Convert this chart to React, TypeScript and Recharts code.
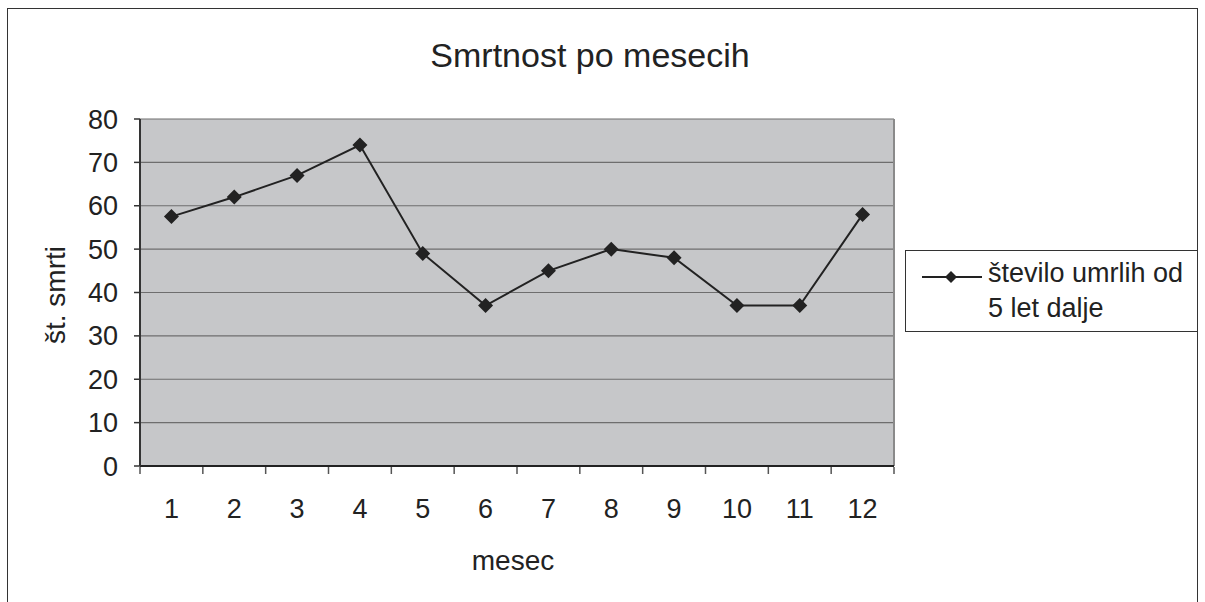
import {
  LineChart,
  Line,
  XAxis,
  YAxis,
  CartesianGrid,
  Legend,
  ReferenceLine,
} from 'recharts'

const meseci = [1, 2, 3, 4, 5, 6, 7, 8, 9, 10, 11, 12]
const umrli = [57.5, 62, 67, 74, 49, 37, 45, 50, 48, 37, 37, 58]
const mejeMesecev = [0.5, 1.5, 2.5, 3.5, 4.5, 5.5, 6.5, 7.5, 8.5, 9.5, 10.5, 11.5, 12.5]
const yTicks = [0, 10, 20, 30, 40, 50, 60, 70, 80]
const imeSerije = 'število umrlih od 5 let dalje'

const data = meseci.map((m, i) => ({ mesec: m, umrli: umrli[i] }))

const FONT = '"Liberation Sans", Arial, Helvetica, sans-serif'
const TEXT = '#222'

// romb kot oznaka tocke
function Romb(props: any) {
  const { cx, cy } = props
  if (cx == null || cy == null) return null
  const r = 7.5
  return (
    <path
      d={`M${cx},${cy - r} L${cx + r},${cy} L${cx},${cy + r} L${cx - r},${cy} Z`}
      fill="#222"
      stroke="none"
    />
  )
}

function Legenda({ payload }: any) {
  const item = payload?.[0]
  if (!item) return null
  return (
    <div
      style={{
        position: 'relative',
        width: 291,
        height: 80,
        border: '1px solid #333',
        background: '#fff',
        fontFamily: FONT,
      }}
    >
      <svg width={60} height={20} style={{ position: 'absolute', left: 16, top: 16 }}>
        <line x1={0} y1={10} x2={60} y2={10} stroke="#222" strokeWidth={2} />
        <path d="M29,4 L35,10 L29,16 L23,10 Z" fill="#222" />
      </svg>
      <div
        style={{
          position: 'absolute',
          left: 82,
          top: 5,
          width: 207,
          fontSize: 27,
          lineHeight: '35px',
          color: TEXT,
        }}
      >
        {item.value}
      </div>
    </div>
  )
}

export default function App() {
  return (
    <div
      style={{
        position: 'absolute',
        left: 0,
        top: 0,
        width: 1205,
        height: 602,
        overflow: 'hidden',
        background: '#fff',
        fontFamily: FONT,
      }}
    >
      <div
        style={{
          position: 'absolute',
          left: 7,
          top: 8,
          width: 1189,
          height: 620,
          border: '1.5px solid #333',
        }}
      />
      <LineChart
        width={1205}
        height={602}
        data={data}
        margin={{ top: 119, right: 311, bottom: 134, left: 0 }}
        style={{ position: 'absolute', left: 0, top: 0 }}
      >
        <CartesianGrid
          vertical={false}
          stroke="#6e6e6e"
          strokeWidth={1.2}
          fill="#c6c7c9"
          fillOpacity={1}
        />
        <XAxis
          type="number"
          dataKey="mesec"
          domain={[0.5, 12.5]}
          ticks={meseci}
          interval={0}
          height={1}
          axisLine={{ stroke: '#222', strokeWidth: 2 }}
          tickLine={false}
          tickSize={0}
          tickMargin={33}
          tick={{ fill: TEXT, fontSize: 27, fontFamily: FONT }}
        />
        <XAxis
          xAxisId="meje"
          type="number"
          dataKey="mesec"
          domain={[0.5, 12.5]}
          ticks={mejeMesecev}
          interval={0}
          height={1}
          axisLine={false}
          tickLine={{ stroke: '#555', strokeWidth: 1.5 }}
          tickSize={7}
          tick={() => <g />}
        />
        <YAxis
          type="number"
          domain={[0, 80]}
          ticks={yTicks}
          interval={0}
          width={140}
          axisLine={{ stroke: '#333', strokeWidth: 2 }}
          tickLine={{ stroke: '#333', strokeWidth: 1.5 }}
          tickSize={6}
          tickMargin={16}
          tick={{ fill: TEXT, fontSize: 27, fontFamily: FONT }}
        />
        <ReferenceLine x={12.5} stroke="#8a8a8a" strokeWidth={2} />
        <Legend
          layout="vertical"
          align="center"
          verticalAlign="middle"
          wrapperStyle={{ left: 905, top: 250, width: 293, height: 82 }}
          content={<Legenda />}
        />
        <Line
          type="linear"
          dataKey="umrli"
          name={imeSerije}
          stroke="#222"
          strokeWidth={2}
          dot={<Romb />}
          activeDot={false}
          isAnimationActive={false}
        />
      </LineChart>
      <svg
        width={1205}
        height={602}
        style={{ position: 'absolute', left: 0, top: 0, pointerEvents: 'none' }}
      >
        <text x={590} y={67} textAnchor="middle" fontSize={34} fill={TEXT} fontFamily={FONT}>
          Smrtnost po mesecih
        </text>
        <text x={513} y={570} textAnchor="middle" fontSize={28} fill={TEXT} fontFamily={FONT}>
          mesec
        </text>
        <text
          transform="translate(65,295) rotate(-90)"
          textAnchor="middle"
          fontSize={28}
          fill={TEXT}
          fontFamily={FONT}
        >
          št. smrti
        </text>
      </svg>
    </div>
  )
}
